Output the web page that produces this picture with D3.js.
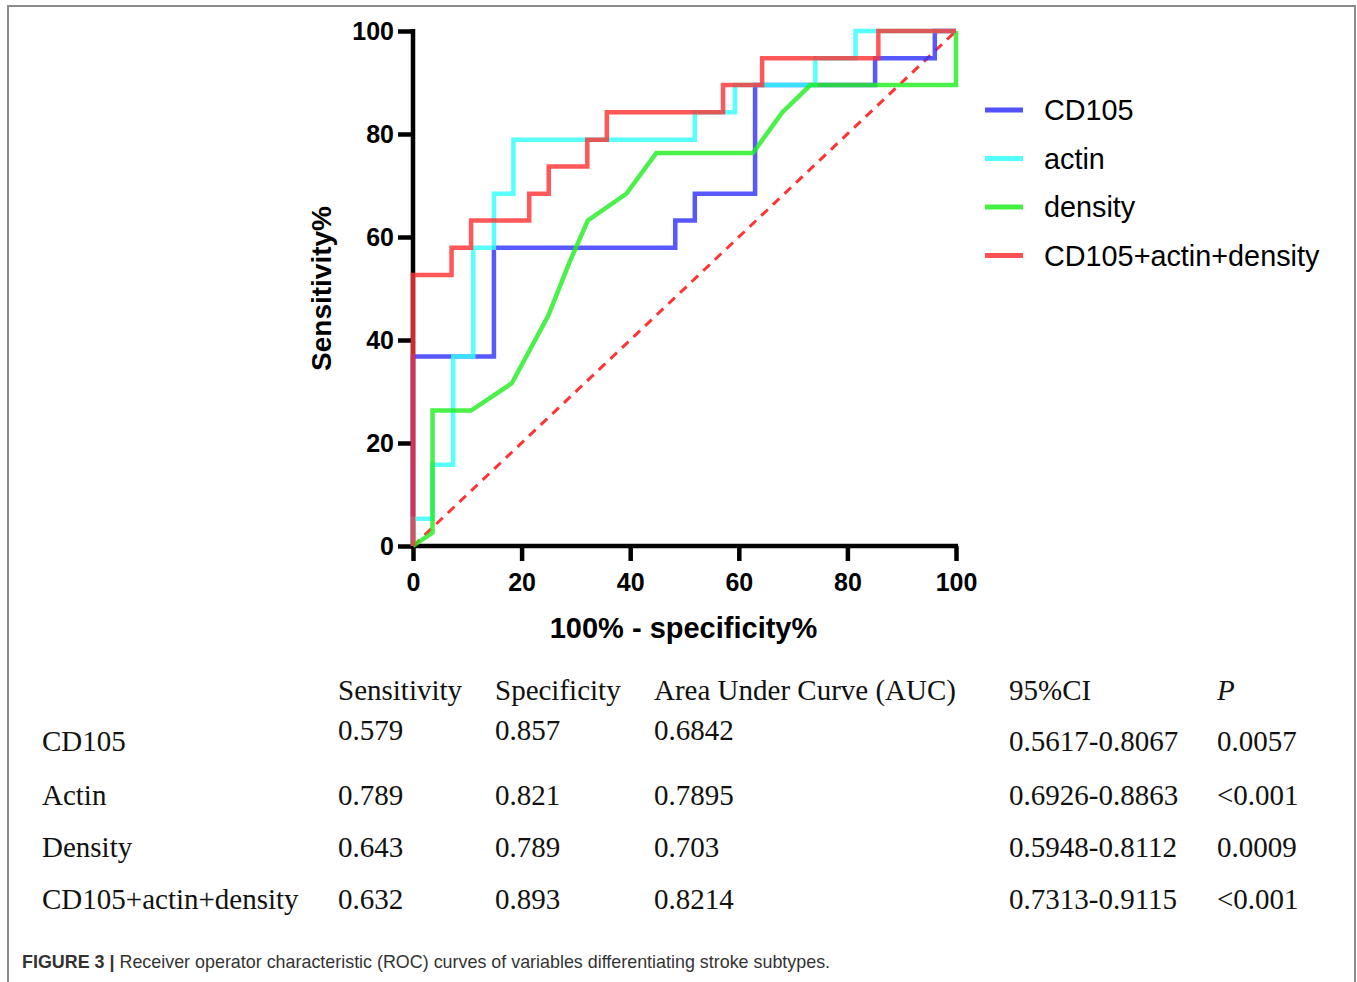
<!DOCTYPE html>
<html>
<head>
<meta charset="utf-8">
<script src="https://cdn.jsdelivr.net/npm/d3@7"></script>
<style>
  body { margin: 0; background: #fff; }
  svg { display: block; }
</style>
</head>
<body>
<svg id="chart" width="1357" height="982"></svg>
<script>
// ROC curve points: [100% - specificity%, sensitivity%]
const cd105 = [[0,0],[0,36.8],[14.9,36.8],[14.9,57.9],[48.3,57.9],[48.3,63.2],[51.9,63.2],[51.9,68.4],
  [63.0,68.4],[63.0,89.5],[85.1,89.5],[85.1,94.7],[96.1,94.7],[96.1,100],[100,100]];
const actin = [[0,0],[0,5.3],[3.6,5.3],[3.6,15.8],[7.4,15.8],[7.4,36.8],[11.1,36.8],[11.1,57.9],
  [14.9,57.9],[14.9,68.4],[18.5,68.4],[18.5,78.9],[51.9,78.9],[51.9,84.2],[59.3,84.2],[59.3,89.5],
  [74.1,89.5],[74.1,94.7],[81.5,94.7],[81.5,100],[100,100]];
const density = [[0,0],[3.6,2.6],[3.6,26.3],[10.7,26.3],[18.2,31.6],[24.9,44.7],[28.9,55.3],[32.2,63.2],
  [39.3,68.4],[44.8,76.3],[62.6,76.3],[68.0,84.2],[73.2,89.5],[100,89.5],[100,100]];
const combined = [[0,0],[0,52.6],[7.1,52.6],[7.1,57.9],[10.7,57.9],[10.7,63.2],[21.4,63.2],[21.4,68.4],
  [25.0,68.4],[25.0,73.7],[32.1,73.7],[32.1,78.9],[35.7,78.9],[35.7,84.2],[57.1,84.2],[57.1,89.5],
  [64.3,89.5],[64.3,94.7],[85.7,94.7],[85.7,100],[100,100]];
const reference = [[0,0],[100,100]];

const seriesNames = ["CD105", "actin", "density", "CD105+actin+density"];
const seriesColors = ["#3333ff", "#33ffff", "#22ee22", "#ff3333"];
const seriesData = [cd105, actin, density, combined];
const ticks = [0, 20, 40, 60, 80, 100];

// table under the chart
const tableHeader = ["Sensitivity", "Specificity", "Area Under Curve (AUC)", "95%CI", "P"];
const rowLabels = ["CD105", "Actin", "Density", "CD105+actin+density"];
const sensitivity = ["0.579", "0.789", "0.643", "0.632"];
const specificity = ["0.857", "0.821", "0.789", "0.893"];
const auc = ["0.6842", "0.7895", "0.703", "0.8214"];
const ci95 = ["0.5617-0.8067", "0.6926-0.8863", "0.5948-0.8112", "0.7313-0.9115"];
const pValues = ["0.0057", "<0.001", "0.0009", "<0.001"];

const svg = d3.select("#chart");

// frame
svg.append("path")
  .attr("d", "M8,982 V6 H1355 V982")
  .attr("fill", "none")
  .attr("stroke", "#8a8a8a")
  .attr("stroke-width", 2);

const x = d3.scaleLinear().domain([0, 100]).range([413, 956]);
const y = d3.scaleLinear().domain([0, 100]).range([546, 31]);

const bold = "Arial, 'Liberation Sans', sans-serif";

// axes
const xAxis = svg.append("g")
  .attr("transform", `translate(0,${y(0)})`)
  .call(d3.axisBottom(x).tickValues(ticks).tickSize(15).tickPadding(12));
const yAxis = svg.append("g")
  .attr("transform", `translate(${x(0)},0)`)
  .call(d3.axisLeft(y).tickValues(ticks).tickSize(15).tickPadding(4));

[xAxis, yAxis].forEach(a => {
  a.select(".domain").attr("stroke", "#000").attr("stroke-width", 4.5);
  a.selectAll(".tick line").attr("stroke", "#000").attr("stroke-width", 4.5);
  a.selectAll(".tick text")
    .attr("fill", "#000")
    .style("font-family", bold)
    .style("font-weight", "bold")
    .style("font-size", "25px");
});
// remove outer tick stubs of domain
xAxis.select(".domain").attr("d", `M${x(0) - 2},0H${x(100) + 2}`);
yAxis.select(".domain").attr("d", `M0,${y(100) - 2}V${y(0) + 2}`);

// axis titles
svg.append("text")
  .attr("x", (x(0) + x(100)) / 2 - 1)
  .attr("y", 638)
  .attr("text-anchor", "middle")
  .style("font-family", bold).style("font-weight", "bold").style("font-size", "29px")
  .text("100% - specificity%");

svg.append("text")
  .attr("transform", `translate(331,${(y(0) + y(100)) / 2}) rotate(-90)`)
  .attr("text-anchor", "middle")
  .style("font-family", bold).style("font-weight", "bold").style("font-size", "28px")
  .text("Sensitivity%");

const line = d3.line().x(d => x(d[0])).y(d => y(d[1]));

// diagonal reference
svg.append("path")
  .datum(reference)
  .attr("d", line)
  .attr("fill", "none")
  .attr("stroke", "#ff3333")
  .attr("stroke-width", 3)
  .attr("stroke-dasharray", "9,7");

// curves
seriesData.forEach((data, i) => {
  svg.append("path")
    .datum(data)
    .attr("d", line)
    .attr("fill", "none")
    .attr("stroke", seriesColors[i])
    .attr("stroke-opacity", 0.82)
    .attr("stroke-width", 4.5)
    .attr("stroke-linejoin", "miter");
});

// legend
const legend = svg.append("g");
seriesNames.forEach((name, i) => {
  const ly = 110 + i * 48.5;
  legend.append("line")
    .attr("x1", 985).attr("x2", 1023)
    .attr("y1", ly).attr("y2", ly)
    .attr("stroke", seriesColors[i])
    .attr("stroke-opacity", 0.85)
    .attr("stroke-width", 5);
  legend.append("text")
    .attr("x", 1044).attr("y", ly + 10)
    .style("font-family", bold).style("font-size", "28.8px")
    .text(name);
});

// table
const serif = "'Liberation Serif', 'Times New Roman', serif";
const colX = [338, 495, 654, 1009, 1217];
const table = svg.append("g").style("font-family", serif).style("font-size", "29px").attr("fill", "#111");

tableHeader.forEach((h, i) => {
  table.append("text")
    .attr("x", colX[i]).attr("y", 700)
    .style("font-style", h === "P" ? "italic" : "normal")
    .text(h);
});

const rowY = [751, 805, 857, 909];
rowLabels.forEach((label, r) => {
  const base = rowY[r];
  const upper = r === 0 ? base - 11 : base;
  table.append("text").attr("x", 42).attr("y", base).text(label);
  table.append("text").attr("x", colX[0]).attr("y", upper).text(sensitivity[r]);
  table.append("text").attr("x", colX[1]).attr("y", upper).text(specificity[r]);
  table.append("text").attr("x", colX[2]).attr("y", upper).text(auc[r]);
  table.append("text").attr("x", colX[3]).attr("y", base).text(ci95[r]);
  table.append("text").attr("x", colX[4]).attr("y", base).text(pValues[r]);
});

// caption
const caption = svg.append("text")
  .attr("x", 22).attr("y", 968)
  .style("font-family", bold).style("font-size", "17.9px")
  .attr("fill", "#333");
caption.append("tspan").style("font-weight", "bold").text("FIGURE 3 | ");
caption.append("tspan").text("Receiver operator characteristic (ROC) curves of variables differentiating stroke subtypes.");
</script>
</body>
</html>
